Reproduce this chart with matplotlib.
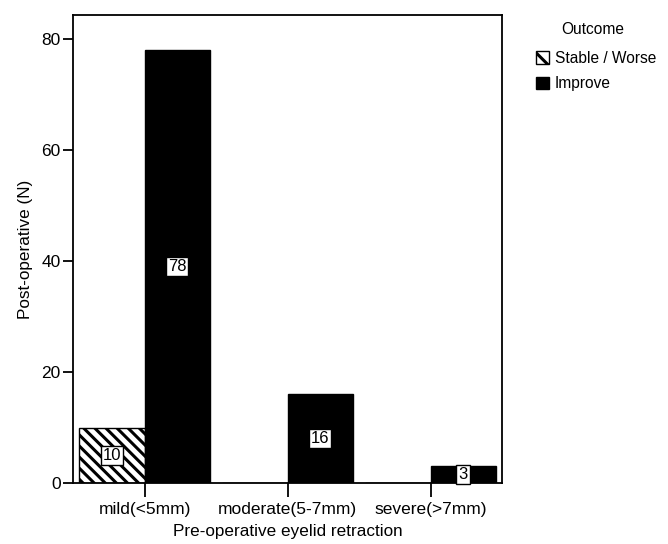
import matplotlib
matplotlib.use('Agg')
import matplotlib.pyplot as plt
from matplotlib.patches import Patch

plt.rcParams['font.family'] = ['Liberation Sans', 'DejaVu Sans']
plt.rcParams['hatch.linewidth'] = 2.2

# data
categories = ['mild(<5mm)', 'moderate(5-7mm)', 'severe(>7mm)']
stable_worse = [10, 0, 0]
improve = [78, 16, 3]
series_names = ['Stable / Worse', 'Improve']
y_ticks = [0, 20, 40, 60, 80]


def add_count_labels(ax, xs, values, offset):
    """Put the count in a small white box in the middle of each bar."""
    for x, v in zip(xs, values):
        if v <= 0:
            continue
        ax.text(x + offset, v / 2, str(v), ha='center', va='center',
                fontsize=12, color='black',
                bbox=dict(boxstyle='square,pad=0.12', facecolor='white',
                          edgecolor='black', linewidth=1.0))


fig = plt.figure(figsize=(6.68, 5.44), dpi=100)
ax = fig.add_axes([0.1093, 0.1121, 0.6422, 0.8603])

xs = list(range(len(categories)))
width = 0.455

ax.bar(xs, stable_worse, width=-width, align='edge', color='white',
       edgecolor='black', hatch='\\\\\\', linewidth=1.0)
ax.bar(xs, improve, width=width, align='edge', color='black',
       edgecolor='black', linewidth=1.0)

add_count_labels(ax, xs, stable_worse, -width / 2)
add_count_labels(ax, xs, improve, width / 2)

ax.set_xlim(-0.5, 2.5)
ax.set_ylim(0, 84.3)
ax.set_xticks(xs)
ax.set_xticklabels(categories, fontsize=12.5)
ax.set_yticks(y_ticks)
ax.set_yticklabels([str(t) for t in y_ticks], fontsize=12.5)
ax.tick_params(axis='y', direction='out', length=7, width=1.3, pad=2)
ax.tick_params(axis='x', direction='out', length=10, width=1.3, pad=4)

for side in ['left', 'right', 'top', 'bottom']:
    ax.spines[side].set_linewidth(1.3)

ax.set_xlabel('Pre-operative eyelid retraction', fontsize=12.3, labelpad=5)
ax.set_ylabel('Post-operative (N)', fontsize=12.3, labelpad=6)

# legend sits outside the plot on the right, title drawn separately
fig.text(593 / 668, 1 - 29 / 544, 'Outcome', ha='center', va='center', fontsize=11.2)
handles = [Patch(facecolor='white', edgecolor='black', hatch='\\\\', label=series_names[0]),
           Patch(facecolor='black', edgecolor='black', label=series_names[1])]
fig.legend(handles=handles, loc='upper left',
           bbox_to_anchor=(536 / 668, 1 - 51 / 544), frameon=False, fontsize=11.2,
           handlelength=0.85, handleheight=0.85, handletextpad=0.35,
           borderaxespad=0, borderpad=0, labelspacing=0.65)

fig.savefig('out.png', dpi=100)
